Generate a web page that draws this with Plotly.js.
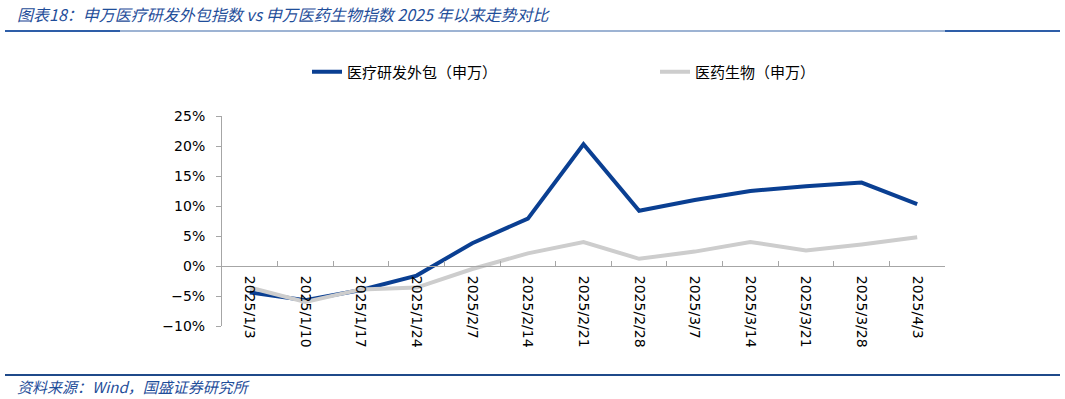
<!DOCTYPE html>
<html>
<head>
<meta charset="utf-8">
<script src="https://cdn.plot.ly/plotly-3.0.1.min.js"></script>
<style>
html,body{margin:0;padding:0;background:#fff;}
#chart{width:1065px;height:399px;}
</style>
</head>
<body>
<div id="chart"></div>
<script>
const dates = ["2025/1/3","2025/1/10","2025/1/17","2025/1/24","2025/2/7","2025/2/14","2025/2/21","2025/2/28","2025/3/7","2025/3/14","2025/3/21","2025/3/28","2025/4/3"];
const cro = [-4.4, -5.7, -4.0, -1.6, 3.8, 7.9, 20.3, 9.2, 11.0, 12.5, 13.3, 13.9, 10.3];
const pharma = [-3.6, -6.0, -3.9, -3.6, -0.5, 2.1, 4.0, 1.2, 2.4, 4.0, 2.6, 3.6, 4.8];
const seriesNames = ["医疗研发外包（申万）", "医药生物（申万）"];
const titleText = "图表18：申万医疗研发外包指数 vs 申万医药生物指数 2025 年以来走势对比";
const sourceText = "资料来源：Wind，国盛证券研究所";

const W = 1065, H = 399;
const L = 222, R = 945, T = 116, B = 326;
const pw = R - L, ph = B - T;
const px = x => (x - L) / pw;
const py = y => (B - y) / ph;

const cjk = "'Noto Sans CJK SC', 'DejaVu Sans', sans-serif";
const axFont = {family: "'DejaVu Sans', sans-serif", size: 14, color: '#000'};
const titleBlue = '#1f4e9a';

const traces = [
  {x: dates, y: cro, name: seriesNames[0], type: 'scatter', mode: 'lines',
   line: {color: '#0a3f92', width: 4}},
  {x: dates, y: pharma, name: seriesNames[1], type: 'scatter', mode: 'lines',
   line: {color: '#cdcdcd', width: 4}}
];

const layout = {
  width: W, height: H,
  margin: {l: L, r: W - R, t: T, b: H - B, pad: 0},
  paper_bgcolor: '#fff', plot_bgcolor: '#fff',
  showlegend: true,
  legend: {orientation: 'h', x: px(307), y: py(72), xanchor: 'left', yanchor: 'middle',
           font: {family: cjk, size: 15, color: '#000'},
           entrywidth: 303, entrywidthmode: 'pixels', tracegroupgap: 0, bgcolor: 'rgba(0,0,0,0)'},
  xaxis: {type: 'category', anchor: 'free', position: 10/35,
          showgrid: false, zeroline: false,
          showline: true, linecolor: '#a6a6a6', linewidth: 1,
          ticks: 'inside', ticklen: 5, tickcolor: '#a6a6a6', tickson: 'boundaries',
          tickangle: 90, tickfont: axFont, ticklabelstandoff: 6,
          range: [-0.5, 12.5], fixedrange: true},
  yaxis: {range: [-10, 25], dtick: 5, ticksuffix: '%',
          showgrid: false, zeroline: false,
          showline: true, linecolor: '#a6a6a6', linewidth: 1,
          ticks: 'outside', ticklen: 5, tickcolor: '#a6a6a6', ticklabelstandoff: 8,
          tickfont: axFont, fixedrange: true},
  shapes: [
    {type: 'line', xref: 'paper', yref: 'paper', x0: px(5), x1: px(120), y0: py(31), y1: py(31),
     line: {color: '#2e5ea8', width: 2}},
    {type: 'line', xref: 'paper', yref: 'paper', x0: px(120), x1: px(945), y0: py(31), y1: py(31),
     line: {color: '#9db3d3', width: 2}},
    {type: 'line', xref: 'paper', yref: 'paper', x0: px(945), x1: px(1060), y0: py(31), y1: py(31),
     line: {color: '#2e5ea8', width: 2}},
    {type: 'line', xref: 'paper', yref: 'paper', x0: px(5), x1: px(1060), y0: py(375), y1: py(375),
     line: {color: '#1f4a8a', width: 2}}
  ],
  annotations: [
    {text: '<i>' + titleText + '</i>', xref: 'paper', yref: 'paper', x: px(15), y: py(14),
     xanchor: 'left', yanchor: 'middle', showarrow: false,
     font: {family: cjk, size: 16, color: titleBlue}},
    {text: '<i>' + sourceText + '</i>', xref: 'paper', yref: 'paper', x: px(15), y: py(386),
     xanchor: 'left', yanchor: 'middle', showarrow: false,
     font: {family: cjk, size: 15, color: titleBlue}}
  ]
};

Plotly.newPlot('chart', traces, layout, {displayModeBar: false, staticPlot: true});
</script>
</body>
</html>
